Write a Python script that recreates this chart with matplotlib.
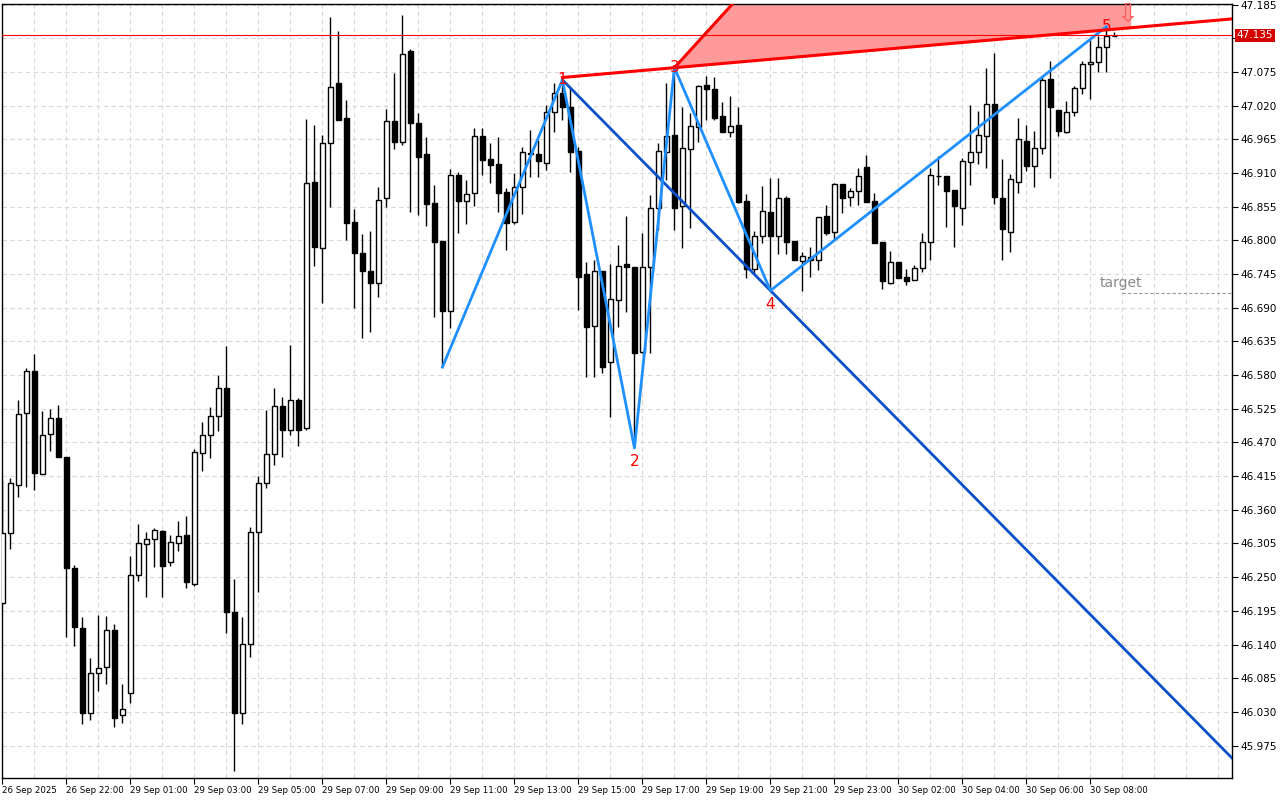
import matplotlib
matplotlib.use("Agg")
import matplotlib.pyplot as plt
from matplotlib.patches import Polygon
import numpy as np

# 15 minute candles
opens = [46.208, 46.322, 46.400, 46.518, 46.587, 46.418, 46.484, 46.510, 46.446, 46.265,
         46.167, 46.028, 46.093, 46.103, 46.164, 46.025, 46.061, 46.253, 46.304, 46.312,
         46.325, 46.275, 46.306, 46.319, 46.239, 46.453, 46.482, 46.513, 46.559, 46.193,
         46.028, 46.141, 46.324, 46.404, 46.451, 46.530, 46.490, 46.539, 46.494, 46.896,
         46.788, 46.959, 47.057, 47.000, 46.830, 46.780, 46.750, 46.731, 46.869, 46.995,
         46.961, 47.110, 46.992, 46.941, 46.861, 46.799, 46.685, 46.907, 46.865, 46.878,
         46.971, 46.933, 46.925, 46.879, 46.830, 46.887, 46.943, 46.941, 46.927, 47.010,
         47.041, 47.017, 46.946, 46.745, 46.660, 46.750, 46.601, 46.703, 46.762, 46.757,
         46.618, 46.757, 46.853, 46.945, 46.972, 46.856, 46.950, 46.985, 47.054, 47.048,
         47.003, 46.977, 46.989, 46.865, 46.753, 46.807, 46.847, 46.807, 46.869, 46.799,
         46.767, 46.773, 46.768, 46.840, 46.814, 46.892, 46.871, 46.881, 46.920, 46.865,
         46.798, 46.731, 46.765, 46.740, 46.736, 46.755, 46.798, 46.905, 46.905, 46.883,
         46.853, 46.928, 46.945, 46.971, 47.023, 46.869, 46.814, 46.896, 46.963, 46.922,
         46.951, 47.064, 47.013, 46.977, 47.010, 47.049, 47.088, 47.092, 47.116, 47.133]
highs = [46.409, 46.412, 46.539, 46.592, 46.615, 46.521, 46.525, 46.531, 46.446, 46.270,
         46.185, 46.118, 46.188, 46.186, 46.173, 46.075, 46.285, 46.337, 46.324, 46.330,
         46.327, 46.319, 46.342, 46.350, 46.459, 46.503, 46.528, 46.580, 46.628, 46.247,
         46.185, 46.332, 46.415, 46.523, 46.559, 46.544, 46.629, 46.543, 46.999, 46.989,
         46.972, 47.164, 47.142, 47.030, 46.852, 46.811, 46.816, 46.887, 47.015, 47.074,
         47.168, 47.113, 47.008, 46.969, 46.891, 46.799, 46.917, 46.912, 46.899, 46.984,
         46.984, 46.959, 46.969, 46.886, 46.910, 46.953, 46.981, 46.964, 47.021, 47.057,
         47.066, 47.049, 46.953, 46.765, 46.768, 46.750, 46.762, 46.793, 46.840, 46.757,
         46.812, 46.874, 46.959, 47.057, 47.079, 47.018, 47.008, 47.054, 47.069, 47.067,
         47.026, 47.036, 47.017, 46.876, 46.816, 46.889, 46.902, 46.902, 46.873, 46.799,
         46.781, 46.789, 46.838, 46.858, 46.894, 46.892, 46.886, 46.918, 46.940, 46.878,
         46.798, 46.783, 46.765, 46.753, 46.760, 46.812, 46.918, 46.938, 46.905, 46.883,
         46.935, 47.021, 47.012, 47.082, 47.106, 46.933, 46.909, 47.000, 46.989, 46.979,
         47.066, 47.093, 47.013, 47.028, 47.052, 47.093, 47.128, 47.133, 47.149, 47.141]
lows = [46.204, 46.296, 46.381, 46.397, 46.392, 46.418, 46.456, 46.446, 46.152, 46.137,
        46.010, 46.017, 46.064, 46.075, 46.005, 46.012, 46.044, 46.244, 46.218, 46.267,
        46.218, 46.268, 46.293, 46.232, 46.235, 46.423, 46.445, 46.489, 46.159, 45.933,
        46.010, 46.119, 46.226, 46.396, 46.433, 46.446, 46.482, 46.464, 46.490, 46.758,
        46.698, 46.855, 46.997, 46.801, 46.690, 46.641, 46.651, 46.708, 46.855, 46.950,
        46.956, 46.847, 46.842, 46.824, 46.675, 46.593, 46.657, 46.812, 46.827, 46.856,
        46.907, 46.894, 46.847, 46.785, 46.827, 46.843, 46.904, 46.904, 46.915, 46.977,
        46.997, 46.912, 46.686, 46.577, 46.577, 46.584, 46.512, 46.659, 46.683, 46.461,
        46.616, 46.616, 46.817, 46.899, 46.817, 46.788, 46.820, 46.961, 46.997, 46.997,
        46.977, 46.968, 46.861, 46.739, 46.745, 46.796, 46.719, 46.778, 46.778, 46.768,
        46.718, 46.740, 46.752, 46.809, 46.802, 46.845, 46.856, 46.858, 46.863, 46.796,
        46.721, 46.729, 46.739, 46.727, 46.736, 46.749, 46.768, 46.891, 46.822, 46.789,
        46.825, 46.891, 46.925, 46.918, 46.860, 46.768, 46.781, 46.878, 46.914, 46.887,
        46.941, 46.902, 46.971, 46.976, 47.003, 47.039, 47.031, 47.075, 47.075, 47.133]
closes = [46.322, 46.404, 46.516, 46.587, 46.420, 46.482, 46.510, 46.446, 46.265, 46.168,
          46.028, 46.093, 46.101, 46.164, 46.020, 46.035, 46.253, 46.306, 46.312, 46.327,
          46.268, 46.307, 46.317, 46.242, 46.454, 46.482, 46.513, 46.559, 46.193, 46.028,
          46.141, 46.324, 46.404, 46.451, 46.530, 46.490, 46.539, 46.490, 46.894, 46.789,
          46.959, 47.051, 46.997, 46.829, 46.780, 46.750, 46.731, 46.866, 46.995, 46.961,
          47.105, 46.992, 46.936, 46.860, 46.798, 46.685, 46.907, 46.865, 46.876, 46.971,
          46.932, 46.923, 46.878, 46.829, 46.887, 46.945, 46.941, 46.930, 47.010, 47.041,
          47.017, 46.945, 46.740, 46.659, 46.750, 46.593, 46.704, 46.758, 46.757, 46.616,
          46.757, 46.853, 46.946, 46.971, 46.853, 46.951, 46.987, 47.052, 47.048, 47.000,
          46.977, 46.987, 46.863, 46.753, 46.807, 46.848, 46.807, 46.869, 46.798, 46.768,
          46.775, 46.768, 46.838, 46.812, 46.892, 46.869, 46.881, 46.905, 46.863, 46.796,
          46.734, 46.765, 46.739, 46.734, 46.755, 46.798, 46.907, 46.905, 46.881, 46.856,
          46.930, 46.945, 46.972, 47.023, 46.871, 46.819, 46.900, 46.966, 46.922, 46.951,
          47.062, 47.017, 46.979, 47.010, 47.049, 47.088, 47.092, 47.116, 47.133, 47.133]

time_labels = ["26 Sep 2025", "26 Sep 22:00", "29 Sep 01:00", "29 Sep 03:00", "29 Sep 05:00",
               "29 Sep 07:00", "29 Sep 09:00", "29 Sep 11:00", "29 Sep 13:00", "29 Sep 15:00",
               "29 Sep 17:00", "29 Sep 19:00", "29 Sep 21:00", "29 Sep 23:00", "30 Sep 02:00",
               "30 Sep 04:00", "30 Sep 06:00", "30 Sep 08:00"]
price_ticks = [47.185, 47.130, 47.075, 47.020, 46.965, 46.910, 46.855, 46.800, 46.745, 46.690,
               46.635, 46.580, 46.525, 46.470, 46.415, 46.360, 46.305, 46.250, 46.195, 46.140,
               46.085, 46.030, 45.975]

# wave points: bar index, price
wave_bars = [55, 70, 79, 84, 96, 138]
wave_prices = [46.593, 47.062, 46.461, 47.082, 46.718, 47.149]
wave_names = ["", "1", "2", "3", "4", "5"]
current_price = 47.135
target_price = 46.714

x_min, x_max = -0.06, 153.7
y_min, y_max = 45.922, 47.186

fig = plt.figure(figsize=(12.8, 8.0), dpi=100)
ax = fig.add_axes([2 / 1280, 22 / 800, 1230 / 1280, 774 / 800])
ax.set_xlim(x_min, x_max)
ax.set_ylim(y_min, y_max)

ax.set_xticks(np.arange(4, 154, 4), minor=True)
ax.set_xticks(np.arange(0, 8 * len(time_labels), 8))
ax.set_xticklabels(time_labels, fontsize=6.2, ha="left")
ax.set_yticks(price_ticks)
# the 47.130 label sits under the current price box
ax.set_yticklabels(["" if p == 47.130 else f"{p:.3f}" for p in price_ticks], fontsize=7.5)
ax.yaxis.tick_right()
ax.tick_params(axis="x", which="major", length=4, pad=2)
ax.tick_params(axis="x", which="minor", length=0)
ax.tick_params(axis="y", length=4, pad=2)
ax.grid(True, which="both", color="#d8d8d8", linestyle=(0, (4, 3)), linewidth=0.8)
ax.set_axisbelow(True)
for side in ax.spines.values():
    side.set_linewidth(1)

x = np.arange(len(opens))
o = np.array(opens)
c = np.array(closes)
up = c >= o
ax.vlines(x, lows, highs, color="black", linewidth=1, zorder=2)
body = np.maximum(np.abs(c - o), 0.0008)
ax.bar(x[up], body[up], bottom=o[up], width=0.6, color="white", edgecolor="black",
       linewidth=1, zorder=3)
ax.bar(x[~up], body[~up], bottom=c[~up], width=0.6, color="black", edgecolor="black",
       linewidth=1, zorder=3)

# red resistance line through 1 and 3, plus the steep line and shaded zone
slope = (wave_prices[3] - 47.066) / (wave_bars[3] - wave_bars[1])
line_x = np.array([wave_bars[1], x_max])
line_y = 47.066 + slope * (line_x - wave_bars[1])
steep_x = 91.3
zone_right = 141.1
zone_y = 47.066 + slope * (zone_right - wave_bars[1])
zone = Polygon([(wave_bars[3], wave_prices[3]), (steep_x, y_max), (zone_right, y_max),
                (zone_right, zone_y)], closed=True, facecolor="#ff9a9a", edgecolor="none",
               zorder=1.5)
ax.add_patch(zone)
ax.plot([wave_bars[3], steep_x + 0.3], [wave_prices[3], y_max + 0.005], color="red",
        linewidth=2.2, zorder=5)
ax.plot(line_x, line_y, color="red", linewidth=2.2, zorder=5)

# dark blue line through 1 and 4
bl_slope = (wave_prices[4] - wave_prices[1]) / (wave_bars[4] - wave_bars[1])
bl_x = np.array([wave_bars[1], x_max])
ax.plot(bl_x, wave_prices[1] + bl_slope * (bl_x - wave_bars[1]), color="#0a50c8",
        linewidth=2, zorder=4)

ax.plot(wave_bars, wave_prices, color="#1e90ff", linewidth=2, zorder=4)

ax.axhline(current_price, color="red", linewidth=0.8, zorder=4)

for b, p, name in zip(wave_bars, wave_prices, wave_names):
    if not name:
        continue
    dy = -0.022 if name in ("2", "4") else 0.0
    ax.text(b, p + dy, name, color="red", fontsize=11, ha="center", va="center", zorder=6)

ax.text(140.6, 47.168, "⇩", color="#ff6060", fontsize=19, ha="center", va="center", zorder=6)

ax.text(137.1, target_price + 0.016, "target", color="#888888", fontsize=10, ha="left",
        va="center", zorder=6)
ax.plot([140, x_max], [target_price, target_price], color="#999999", linewidth=0.8,
        linestyle=(0, (3, 2)), zorder=4)

ax.text(1.004, (current_price - y_min) / (y_max - y_min), f"{current_price:.3f}",
        transform=ax.transAxes, fontsize=7.5, color="white", ha="left", va="center",
        bbox=dict(boxstyle="square,pad=0.15", facecolor="#d40000", edgecolor="none"),
        zorder=7)

fig.savefig("out.png", dpi=100)
